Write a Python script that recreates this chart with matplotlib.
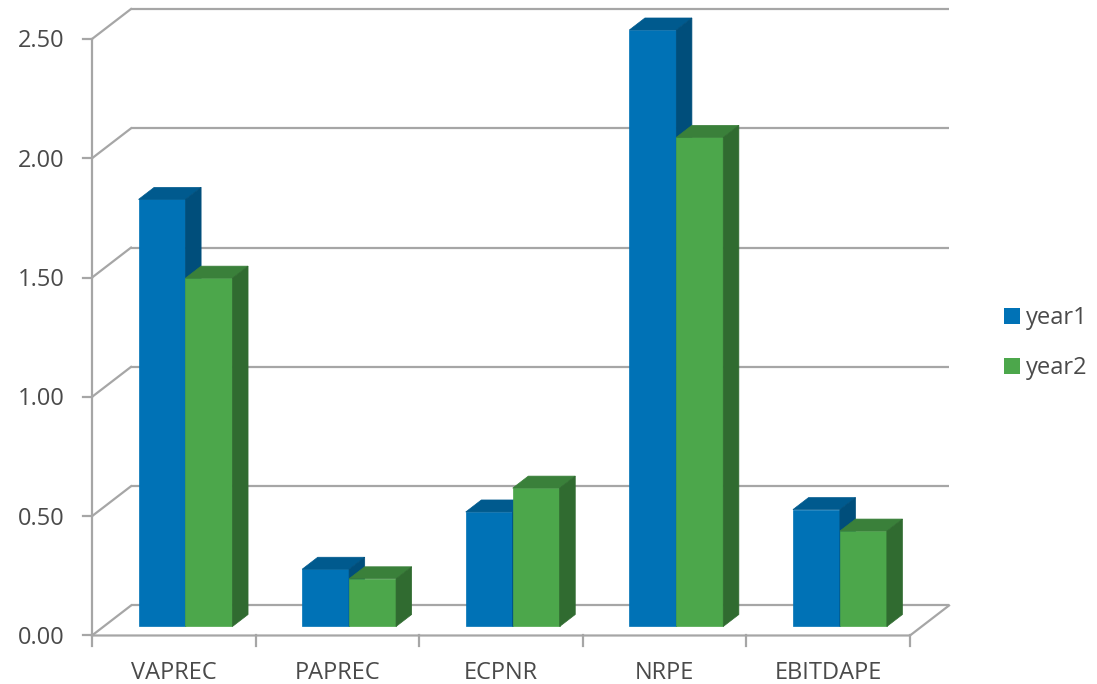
import matplotlib
matplotlib.use("Agg")
import matplotlib.pyplot as plt
from matplotlib.patches import Polygon, Patch
import numpy as np

plt.rcParams['font.family'] = ['Open Sans', 'DejaVu Sans']

categories = ['VAPREC', 'PAPREC', 'ECPNR', 'NRPE', 'EBITDAPE']
year1 = [1.79, 0.24, 0.48, 2.50, 0.49]
year2 = [1.46, 0.20, 0.58, 2.05, 0.40]
yticks = [0.0, 0.5, 1.0, 1.5, 2.0, 2.5]

# colours: front, top, side
blue = ('#0072b6', '#005a8e', '#004e7b')
green = ('#4ca74b', '#3a803a', '#306b30')
grid_c = '#a6a6a6'
text_c = '#4a4a4a'

# depth of the 3-D box in data units (x: categories, y: values)
dep_x, dep_y = 0.2384, 0.1257
bar_w = 0.287
bar_front, bar_back = 0.3, 0.7   # fraction of the depth taken by the bars

fig = plt.figure(figsize=(10.97, 6.84), dpi=100)
ax = fig.add_axes([0, 0, 1, 1])
ax.set_xlim(-0.5623, 6.143)
ax.set_ylim(-0.2033, 2.6634)
ax.axis('off')

n = len(categories)
lw = 1.6
fs = 17

# back wall and left side wall
for v in yticks:
    ax.plot([dep_x, n + dep_x], [v + dep_y, v + dep_y], color=grid_c, lw=lw,
            solid_capstyle='butt', zorder=1)
    ax.plot([0, dep_x], [v, v + dep_y], color=grid_c, lw=lw, zorder=1)
    ax.plot([-0.055, 0], [v, v], color=grid_c, lw=lw, zorder=1)
    ax.text(-0.165, v - 0.01, f'{v:.2f}', ha='right', va='center', fontsize=fs, color=text_c)

ax.plot([0, 0], [0, yticks[-1]], color=grid_c, lw=lw, zorder=1)

# floor
ax.plot([0, n, n + dep_x], [0, 0, dep_y], color=grid_c, lw=lw, zorder=1)
for k in range(n + 1):
    ax.plot([k, k], [0, -0.042], color=grid_c, lw=lw, zorder=1)
for i, cat in enumerate(categories):
    ax.text(i + 0.5, -0.156, cat, ha='center', va='center', fontsize=fs, color=text_c)


def bar3d(x0, h, cols, z):
    fx, fy = bar_front * dep_x, bar_front * dep_y
    bx, by = bar_back * dep_x, bar_back * dep_y
    x1 = x0 + bar_w
    front = [(x0 + fx, fy), (x1 + fx, fy), (x1 + fx, fy + h), (x0 + fx, fy + h)]
    top = [(x0 + fx, fy + h), (x1 + fx, fy + h), (x1 + bx, by + h), (x0 + bx, by + h)]
    side = [(x1 + fx, fy), (x1 + bx, by), (x1 + bx, by + h), (x1 + fx, fy + h)]
    for pts, c in zip((front, top, side), cols):
        ax.add_patch(Polygon(pts, closed=True, facecolor=c, edgecolor=c,
                             lw=0.5, zorder=z))


for i in range(n):
    left = i + 0.5 - bar_w
    bar3d(left, year1[i], blue, 3 + 2 * i)
    bar3d(left + bar_w, year2[i], green, 4 + 2 * i)

handles = [Patch(facecolor=blue[0], label='year1'),
           Patch(facecolor=green[0], label='year2')]
fig.legend(handles=handles, loc='center left', bbox_to_anchor=(0.896, 0.498),
           frameon=False, fontsize=fs, handlelength=0.66, handleheight=0.66,
           handletextpad=0.28, labelspacing=1.1, labelcolor=text_c)

fig.savefig('out.png', dpi=100)
